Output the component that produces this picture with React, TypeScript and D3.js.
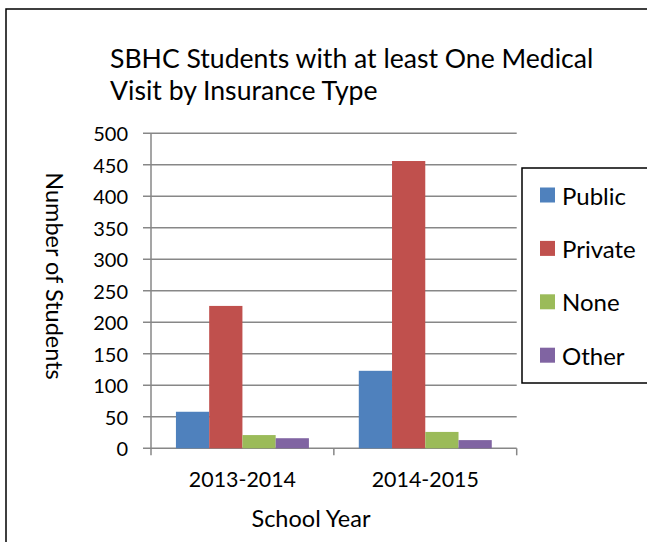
import React, { useEffect, useRef } from 'react';
import * as d3 from 'd3';

const years = ['2013-2014', '2014-2015'];
const series = ['Public', 'Private', 'None', 'Other'];
const colors = ['#4F81BD', '#C0504D', '#9BBB59', '#8064A2'];
const publicVals = [58, 123];
const privateVals = [226, 456];
const noneVals = [21, 26];
const otherVals = [16, 13];
const yTicks = [0, 50, 100, 150, 200, 250, 300, 350, 400, 450, 500];

const App: React.FC = () => {
  const svgRef = useRef<SVGSVGElement>(null);

  useEffect(() => {
    const svg = d3.select(svgRef.current);
    svg.selectAll('*').remove();
    const font = 'Lato, "Noto Sans", sans-serif';
    const values = [publicVals, privateVals, noneVals, otherVals];

    // outer frame (only top and left edges visible)
    svg.append('path').attr('d', 'M6,560 V9 H660').attr('fill', 'none').attr('stroke', '#000').attr('stroke-width', 1.5);

    const left = 151, right = 516.7, top = 133.3, bottom = 448.3;
    const x0 = d3.scaleBand().domain(years).range([left, right]);
    const x1 = d3.scaleBand().domain(series).range([0, x0.bandwidth()]).paddingOuter(0.75).paddingInner(0);
    const y = d3.scaleLinear().domain([0, 500]).range([bottom, top]);

    const grid = svg.append('g');
    grid.selectAll('line').data(yTicks).enter().append('line')
      .attr('x1', left - 8).attr('x2', right)
      .attr('y1', d => y(d)).attr('y2', d => y(d))
      .attr('stroke', '#878787').attr('stroke-width', 1.5);

    svg.append('line').attr('x1', left).attr('x2', left).attr('y1', top).attr('y2', bottom)
      .attr('stroke', '#878787').attr('stroke-width', 1.5);
    const xt = [left, ...years.slice(1).map(d => x0(d)!), right];
    svg.append('g').selectAll('line').data(xt).enter().append('line')
      .attr('x1', d => d).attr('x2', d => d).attr('y1', bottom).attr('y2', bottom + 7)
      .attr('stroke', '#878787').attr('stroke-width', 1.5);

    svg.append('g').selectAll('text').data(yTicks).enter().append('text')
      .attr('x', 128).attr('y', d => y(d)).attr('text-anchor', 'end')
      .attr('dominant-baseline', 'central').attr('font-family', font).attr('font-size', 20)
      .text(d => d);

    const groups = svg.append('g').selectAll('g').data(years).enter().append('g')
      .attr('transform', d => `translate(${x0(d)},0)`);
    groups.selectAll('rect').data((_, i) => series.map((s, j) => ({ s, j, v: values[j][i] })))
      .enter().append('rect')
      .attr('x', d => x1(d.s)!).attr('width', x1.bandwidth())
      .attr('y', d => y(d.v)).attr('height', d => bottom - y(d.v))
      .attr('fill', d => colors[d.j]);

    svg.append('g').selectAll('text').data(years).enter().append('text')
      .attr('x', d => x0(d)! + x0.bandwidth() / 2).attr('y', 487)
      .attr('text-anchor', 'middle').attr('font-family', font).attr('font-size', 21.4)
      .text(d => d);

    svg.append('text').attr('x', 311).attr('y', 527).attr('text-anchor', 'middle')
      .attr('font-family', font).attr('font-size', 23.5).text('School Year');

    svg.append('text').attr('transform', 'translate(55,276) rotate(90)')
      .attr('text-anchor', 'middle').attr('dominant-baseline', 'central')
      .attr('font-family', font).attr('font-size', 23.5).text('Number of Students');

    const title = svg.append('text').attr('font-family', font).attr('font-size', 26.6);
    title.append('tspan').attr('x', 110).attr('y', 68).text('SBHC Students with at least One Medical');
    title.append('tspan').attr('x', 110).attr('y', 100).text('Visit by Insurance Type');

    const legend = svg.append('g');
    legend.append('rect').attr('x', 522).attr('y', 168).attr('width', 140).attr('height', 215)
      .attr('fill', '#fff').attr('stroke', '#000').attr('stroke-width', 1.5);
    const items = legend.selectAll('g.item').data(series).enter().append('g')
      .attr('transform', (_, i) => `translate(540,${195 + i * 53.4})`);
    items.append('rect').attr('x', 0).attr('y', -7.5).attr('width', 15).attr('height', 15)
      .attr('fill', (_, i) => colors[i]);
    items.append('text').attr('x', 22).attr('y', 0).attr('dominant-baseline', 'central')
      .attr('font-family', font).attr('font-size', 24).text(d => d);
  }, []);

  return (
    <svg ref={svgRef} width={647} height={542}
      style={{ position: 'absolute', left: 0, top: 0, background: '#fff' }} />
  );
};

export default App;
